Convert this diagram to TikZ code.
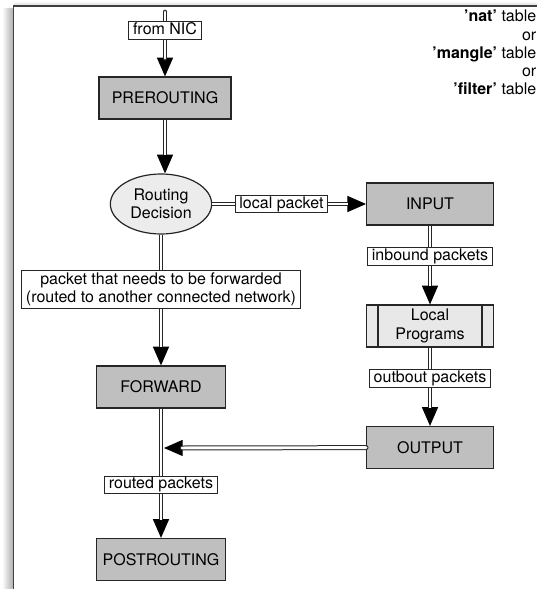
\documentclass[tikz,border=0pt]{standalone}
\usepackage{fontspec}
\setmainfont{TeX Gyre Heros}
\usetikzlibrary{arrows.meta}
\usetikzlibrary{positioning}
\usetikzlibrary{shapes.geometric}
\usetikzlibrary{backgrounds}

\tikzset{
    chain/.style={rectangle, draw=black!85, line width=0.9pt, fill=gray!50,
        minimum width=97pt, minimum height=31.5pt, inner sep=0pt},
    decision/.style={ellipse, draw=black!85, line width=0.9pt, fill=gray!15,
        minimum width=76pt, minimum height=45pt, inner sep=0pt, align=center},
    lbl/.style={rectangle, draw=black!85, line width=0.7pt, fill=white,
        inner xsep=3.2pt, inner ysep=1pt, text height=8.7pt, text depth=2.6pt},
    % single line with the head, the double shaft drawn over it
    flow/.style={draw=black, line width=0.75pt, -{Triangle[length=14pt,width=12pt]},
        postaction={draw=black!85, line width=0.75pt, double=white, double distance=2.2pt,
        -, shorten >=13.6pt}},
}

\begin{document}
\begin{tikzpicture}[x=0.75pt, y=-0.75pt, font=\fontsize{12}{13.7}\selectfont]
        \useasboundingbox (0,0) rectangle (537,589);
        % frame with shadow
        \shade[left color=white, right color=gray!60] (2,8) rectangle (12.6,589);
        \shade[top color=white, bottom color=gray!30] (14,1) rectangle (537,5.4);
        \draw[black!75, line width=1.1pt] (13.5,589) -- (13.5,6.2) -- (537,6.2);

        \node [anchor=north east, align=right, inner sep=0pt] (tables) at (536.5,10)
            {\textbf{'nat'} table\\or\\\textbf{'mangle'} table\\or\\\textbf{'filter'} table};

        \node [chain, minimum width=99pt] (prerouting) at (165,98) {PREROUTING};
        \node [decision] (rd) at (161,204) {Routing\\Decision};
        \node [chain, minimum width=95pt] (input) at (430,204) {INPUT};
        \node [chain, minimum width=95pt, fill=gray!18] (local) at (430,326) {};
        \node [align=center] (localtext) at (local) {Local\\Programs};
        \node [chain, minimum width=95pt] (output) at (430,447.5) {OUTPUT};
        \node [chain] (forward) at (161,387) {FORWARD};
        \node [chain] (postrouting) at (161,559.5) {POSTROUTING};

        \draw [black!85, line width=0.9pt]
            ([xshift=9pt] local.north west) -- ([xshift=9pt] local.south west)
            ([xshift=-9pt] local.north east) -- ([xshift=-9pt] local.south east);

        \coordinate (nicin) at (165,12);
        \coordinate (join) at (164,448);

        \draw [flow, line cap=round] (nicin) -- node [lbl, pos=0.29] (nic) {from NIC} (prerouting);
        \draw [flow] (prerouting.south) -- (prerouting.south |- rd.north);
        \draw [flow] (rd) -- node [lbl, pos=0.45] (lp) {local packet} (input);
        \draw [flow] (input) -- node [lbl, pos=0.39] (inb) {inbound packets} (local);
        \draw [flow] (local) -- node [lbl, pos=0.39] (outb) {outbout packets} (output);
        \draw [flow] (rd) -- node [lbl, pos=0.42, align=center, text height=, text depth=, inner ysep=2pt] (fwd)
            {packet that needs to be forwarded\\(routed to another connected network)} (forward);
        \draw [flow] (forward) -- node [lbl, pos=0.59] (rp) {routed packets} (postrouting);
        \draw [flow, line cap=round] (output) -- (join);
\end{tikzpicture}
\end{document}
